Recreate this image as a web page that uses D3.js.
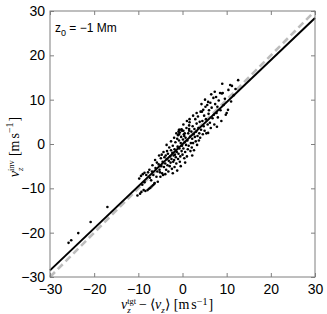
<!DOCTYPE html>
<html>
<head>
<meta charset="utf-8">
<script src="https://cdn.jsdelivr.net/npm/d3@7"></script>
<style>
  body { margin: 0; background: #fff; }
  text { font-family: "Liberation Sans", Arial, sans-serif; }
  .math text { font-family: "Liberation Serif", "Times New Roman", serif; }
</style>
</head>
<body>
<script>
// Stage
let width = 327;
let height = 314;

// Data
let tickValues = [-30, -20, -10, 0, 10, 20, 30];

// lower-left outliers
let outliers = [[-25.8,-22.3],[-25.2,-21.7],[-23.6,-20.1],[-20.8,-17.6],[-17.0,-14.2]];

// main cloud, v_z^tgt - <v_z> vs v_z^inv
let cloud = [
  [-10.2,-11.6],[-9.6,-11.2],[-9.3,-10.8],[-9.8,-7.8],[-9.4,-7.2],[-9.0,-6.8],[-8.6,-6.5],[-8.8,-10.4],
  [-8.4,-10.6],[-8.2,-7.0],[-9.1,-9.2],[-8.6,-8.6],
  [-7.9,-10.4],[-7.6,-10.1],[-7.3,-9.9],[-7.0,-9.6],[-6.7,-9.3],[-6.4,-9.0],[-7.8,-6.4],[-7.4,-7.6],
  [-7.1,-8.2],[-6.9,-6.2],[-6.6,-7.0],[-6.3,-8.8],[-6.1,-5.4],[-6.2,-3.6],[-7.5,-5.8],[-6.8,-4.8],
  [-5.9,-7.4],[-5.7,-6.2],[-5.6,-8.5],[-5.4,-4.6],[-5.2,-5.8],[-5.0,-7.4],[-4.9,-3.2],[-4.8,-5.0],
  [-4.6,-6.6],[-4.5,-4.0],[-4.3,-1.8],[-4.2,-5.2],[-4.1,-3.0],[-5.3,-2.6],[-5.8,-4.2],[-4.7,-2.4],
  [-4.4,-7.0],[-5.1,-6.4],
  [-3.9,-4.4],[-3.8,-2.6],[-3.7,-5.8],[-3.6,-3.4],[-3.5,-1.6],[-3.4,-4.8],[-3.3,-2.2],[-3.2,-6.2],
  [-3.1,-3.8],[-3.0,-0.8],[-2.9,-5.0],[-2.8,-2.8],[-2.7,-4.2],[-2.6,-1.4],[-2.5,-3.4],[-2.4,-5.6],
  [-2.3,-2.0],[-2.2,-0.4],[-2.1,-4.0],[-2.0,-2.6],[-3.6,-0.2],[-2.6,0.6],[-3.9,-6.8],[-2.2,-6.6],
  [-1.9,-3.6],[-1.8,-1.2],[-1.8,-5.2],[-1.7,-2.4],[-1.6,0.4],[-1.5,-3.0],[-1.4,-4.4],[-1.3,-1.8],
  [-1.2,1.2],[-1.1,-0.6],[-1.0,-3.4],[-1.0,2.0],[-0.9,-2.2],[-0.8,0.8],[-0.7,-1.0],[-0.6,2.6],
  [-0.6,-4.0],[-0.5,-2.8],[-0.4,0.2],[-0.3,1.6],[-0.2,-1.6],[-0.1,3.0],[-0.1,-0.4],[-1.4,2.4],
  [-0.8,3.2],[-1.9,1.4],[-0.4,-5.0],[-1.2,-6.0],
  [-0.9,2.8],[-0.6,3.2],[-0.2,3.3],[0.2,3.0],[0.5,2.4],[0.4,1.8],[-0.8,2.2],
  [0.0,-2.4],[0.1,1.0],[0.2,-1.0],[0.3,2.2],[0.4,-3.2],[0.5,0.4],[0.6,-1.8],[0.7,1.4],
  [0.8,-0.2],[0.9,3.6],[1.0,-2.8],[1.1,0.8],[1.2,-1.2],[1.3,2.4],[1.4,-0.4],[1.5,3.4],
  [1.5,4.2],[1.6,4.9],[1.6,5.6],[1.5,3.0],[1.7,1.6],[1.8,-1.6],[1.9,0.2],[0.2,4.4],
  [0.6,-4.2],[1.0,5.2],
  [2.0,2.8],[2.1,-0.8],[2.2,1.2],[2.3,4.0],[2.4,0.2],[2.5,2.2],[2.6,-1.4],[2.7,3.4],
  [2.8,1.6],[2.9,5.6],[3.0,0.6],[3.1,2.8],[3.2,4.6],[3.3,-0.2],[3.4,1.8],[3.5,6.2],
  [3.6,3.6],[3.7,0.8],[3.8,2.4],[3.9,5.0],[2.4,6.4],[3.2,7.0],[2.2,-2.6],
  [4.0,1.4],[4.1,7.3],[4.2,3.2],[4.4,7.3],[4.5,5.2],[4.6,2.2],[4.7,7.7],[4.8,4.0],
  [4.9,6.4],[5.0,3.0],[5.2,8.4],[5.3,5.6],[5.4,2.4],[5.6,8.8],[5.7,4.4],[5.8,2.5],
  [5.9,6.8],[5.8,9.5],[4.3,9.0],[5.1,10.0],
  [6.0,7.6],[6.2,4.8],[6.3,9.3],[6.4,3.6],[6.6,8.2],[6.8,5.8],[7.0,10.4],[7.1,6.6],
  [7.2,4.4],[7.4,9.0],[7.6,10.6],[7.7,7.0],[7.8,3.9],[7.9,8.4],[6.5,11.2],[7.3,11.8],
  [8.0,6.0],[8.2,9.8],[8.5,11.5],[8.6,7.6],[8.8,5.2],[8.9,11.4],[9.1,11.5],[9.3,8.8],
  [9.6,10.2],[9.8,6.6],[10.0,7.0],[10.3,7.7],[10.4,12.2],[10.8,13.3],[11.0,9.6],[11.2,13.1],
  [11.6,11.0],[12.0,12.4],[12.6,14.4],[9.0,13.6]
];

// fitted line (solid black) and one-to-one line (dashed grey)
let fitLine = [[-30, -28.5], [30, 28.4]];
let oneToOne = [[-30, -30], [30, 30]];

// Colours
let axis_color = "#7f7f7f";
let dash_color = "#bdbdbd";
let point_color = "#000";

let svg = d3.select("body")
            .append("svg")
            .attr("width", width)
            .attr("height", height);

svg.append("rect").attr("width", width).attr("height", height).attr("fill", "#fff");

// plot box
let plotLeft = 50, plotRight = 315, plotTop = 11, plotBottom = 277;

let x = d3.scaleLinear().domain([-30, 30]).range([plotLeft, plotRight]);
let y = d3.scaleLinear().domain([-30, 30]).range([plotBottom, plotTop]);

// lines
let line = d3.line().x(d => x(d[0])).y(d => y(d[1]));

svg.append("path")
    .datum(oneToOne)
    .attr("d", line)
    .attr("fill", "none")
    .attr("stroke", dash_color)
    .attr("stroke-width", 2.6)
    .attr("stroke-dasharray", "7,4");

// points
svg.append("g")
    .selectAll("circle")
    .data(outliers.concat(cloud))
    .enter()
    .append("circle")
    .attr("cx", d => x(d[0]))
    .attr("cy", d => y(d[1]))
    .attr("r", 1.3)
    .attr("fill", point_color);

svg.append("path")
    .datum(fitLine)
    .attr("d", line)
    .attr("fill", "none")
    .attr("stroke", "#000")
    .attr("stroke-width", 2);

// axes (ticks inside, mirrored on top/right)
function styleAxis(g) {
    g.select(".domain").remove();
    g.selectAll(".tick line").attr("stroke", axis_color);
    g.selectAll(".tick text")
        .attr("fill", "#000")
        .style("font-size", "14px")
        .style("font-family", "'Liberation Sans', Arial, sans-serif");
}

let fmt = d => d < 0 ? "\u2212" + Math.abs(d) : d;

svg.append("g")
    .attr("transform", "translate(0," + plotBottom + ")")
    .call(d3.axisBottom(x).tickValues(tickValues).tickSize(-4).tickPadding(7).tickFormat(fmt))
    .call(styleAxis);

svg.append("g")
    .attr("transform", "translate(0," + plotTop + ")")
    .call(d3.axisTop(x).tickValues(tickValues).tickSize(-4).tickFormat(""))
    .call(styleAxis);

svg.append("g")
    .attr("transform", "translate(" + plotLeft + ",0)")
    .call(d3.axisLeft(y).tickValues(tickValues).tickSize(-4).tickPadding(5).tickFormat(fmt))
    .call(styleAxis);

svg.append("g")
    .attr("transform", "translate(" + plotRight + ",0)")
    .call(d3.axisRight(y).tickValues(tickValues).tickSize(-4).tickFormat(""))
    .call(styleAxis);

svg.append("rect")
    .attr("x", plotLeft)
    .attr("y", plotTop)
    .attr("width", plotRight - plotLeft)
    .attr("height", plotBottom - plotTop)
    .attr("fill", "none")
    .attr("stroke", axis_color)
    .attr("stroke-width", 1);

// annotation z_0 = -1 Mm
let ann = svg.append("text").attr("x", 55).attr("y", 32).style("font-size", "12px").attr("fill", "#000");
ann.append("tspan").text("z");
ann.append("tspan").attr("dy", 4).style("font-size", "9px").text("0");
ann.append("tspan").attr("dy", -4).text(" = \u22121 Mm");

// math-like labels laid out piece by piece
function mathLabel(g, pieces) {
    let xPos = 0, prevStart = 0;
    pieces.forEach(p => {
        let start = p.stack ? prevStart : xPos + (p.gap || 0);
        let el = g.append("text")
            .attr("x", start)
            .attr("y", p.dy || 0)
            .attr("fill", "#000")
            .style("font-size", (p.size || 14) + "px")
            .style("font-style", p.it ? "italic" : "normal")
            .text(p.t);
        let w = el.node().getComputedTextLength();
        if (!p.stack) prevStart = start;
        xPos = Math.max(xPos, start + w);
    });
    return xPos;
}

let yLab = svg.append("g").attr("class", "math");
let yInner = yLab.append("g");
let yW = mathLabel(yInner, [
    {t: "v", it: true},
    {t: "inv", size: 8.5, dy: -5.5},
    {t: "z", it: true, size: 9, dy: 4, stack: true},
    {t: "[m", gap: 4},
    {t: "s", gap: 2},
    {t: "\u22121", size: 10, dy: -6},
    {t: "]", gap: 1}
]);
yInner.attr("transform", "translate(" + (-yW / 2) + ",0)");
yLab.attr("transform", "translate(19,147) rotate(-90)");

let xLab = svg.append("g").attr("class", "math");
let xInner = xLab.append("g");
let xW = mathLabel(xInner, [
    {t: "v", it: true},
    {t: "tgt", size: 8.5, dy: -5.5},
    {t: "z", it: true, size: 9, dy: 4, stack: true},
    {t: "\u2212", gap: 3},
    {t: "\u27E8", gap: 3},
    {t: "v", it: true},
    {t: "z", it: true, size: 9, dy: 3.5},
    {t: "\u27E9"},
    {t: "[m", gap: 4},
    {t: "s", gap: 2},
    {t: "\u22121", size: 10, dy: -4.5},
    {t: "]", gap: 1}
]);
xInner.attr("transform", "translate(" + (-xW / 2) + ",0)");
xLab.attr("transform", "translate(167,309)");
</script>
</body>
</html>
